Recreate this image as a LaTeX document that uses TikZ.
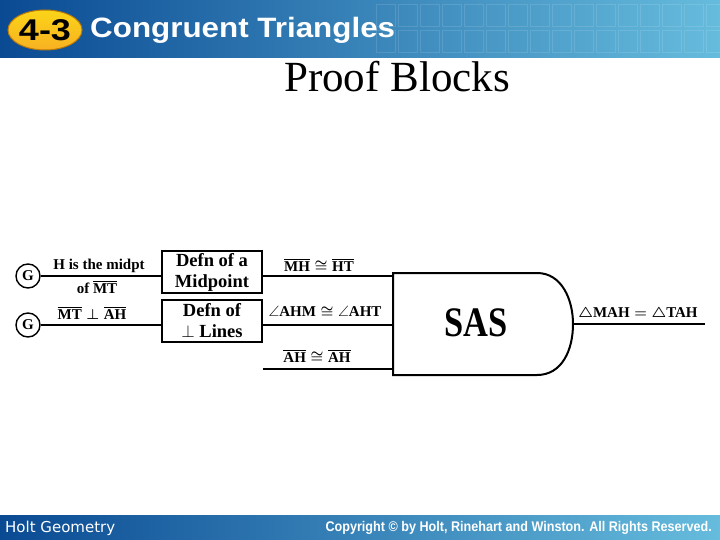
\documentclass[tikz,border=0pt]{standalone}
\usepackage{amsmath,amssymb}
\usepackage{fontspec}
\setmainfont{Liberation Serif}
\newfontfamily\hdrfont{Liberation Sans}
\newfontfamily\ftrfont{DejaVu Sans}
\usepackage{xcolor}
\usepackage{tikz}
\usetikzlibrary{calc}
\definecolor{hdrdark}{HTML}{0A4A93}
\definecolor{hdrmid}{HTML}{1463AC}
\definecolor{hdrlight}{HTML}{66BCDD}
\definecolor{badge}{HTML}{F7B928}
\definecolor{badgedark}{HTML}{B97A0A}
\newcommand{\fsz}[1]{\fontsize{#1}{#1}\selectfont}
\newcommand{\seg}[1]{\overline{\text{#1}}}
\tikzset{given/.style={draw,line width=1.4pt,circle,minimum size=24pt,inner sep=0pt,font=\bfseries\fsz{15}},
  defbox/.style={draw,line width=2pt,minimum width=100pt,minimum height=42pt,inner sep=1pt,align=center,font=\bfseries\fontsize{18.5}{21}\selectfont},
  wire/.style={line width=1.2pt},
  lbl/.style={inner sep=0pt,font=\bfseries\boldmath\fsz{15}},
  gate/.style={line width=2pt}}

\begin{document}
\begin{tikzpicture}[x=1pt,y=-1pt]
\useasboundingbox (0,0) rectangle (720,540);
% header and footer bars
\shade[left color=hdrdark,middle color=hdrmid,right color=hdrlight] (0,0) rectangle (720,58);
\foreach \i in {0,...,15}{
  \draw[white,opacity=0.12] (376+22*\i,4) rectangle ++(19,22);
  \draw[white,opacity=0.12] (376+22*\i,30) rectangle ++(19,22);}
\shade[left color=hdrdark,middle color=hdrmid,right color=hdrlight] (0,515) rectangle (720,540);
\shade[top color=badge!60!yellow,bottom color=badge!85!orange,draw=badgedark,line width=1pt] (45,30) ellipse [x radius=37,y radius=20];
\node (badge) at (45,30) {\hdrfont\bfseries\fsz{30}\scalebox{1.2}[1]{4-3}};
\node[anchor=west,white,inner sep=0pt] (hdr) at (90,30) {\hdrfont\bfseries\fsz{28}\scalebox{1.12}[1]{Congruent Triangles}};
\node (title) at (397,77) {\fsz{43}Proof Blocks};
\node[anchor=west,white,inner sep=0pt] (ftl) at (5,528) {\ftrfont\fsz{15}Holt Geometry};
\node[anchor=east,white,inner sep=0pt] (ftr) at (712,528) {\hdrfont\bfseries\fsz{14}\scalebox{0.9}[1]{Copyright \textcopyright{} by Holt, Rinehart and Winston. All Rights Reserved.}};
% proof blocks
\node[given] (g1) at (28,276) {G};
\node[given] (g2) at (28,325) {G};
\node[defbox] (b1) at (212,272) {Defn of a\\Midpoint};
\node[defbox] (b2) at (212,320.5) {Defn of\\$\perp$ Lines};
\draw[gate] (393,273) -- (537,273) .. controls (562,273) and (573,300) .. (573,324)
  .. controls (573,350) and (562,375) .. (537,375) -- (393,375) -- cycle;
\node (sas) at (476,323) {\bfseries\fsz{42}\scalebox{0.82}[1]{SAS}};
\coordinate (sasin) at (393,324); \coordinate (sasout) at (573,324);
\coordinate (c3) at (263,369); \coordinate (out) at (705,324);
\draw[wire] (g1) -- (g1 -| b1.west);
\draw[wire] (b1.east |- g1) -- (g1 -| sasin);
\draw[wire] (g2) -- (g2 -| b2.west);
\draw[wire] (b2.east |- g2) -- (g2 -| sasin);
\draw[wire] (c3) -- (c3 -| sasin);
\draw[wire] (sasout) -- (out);
\node[lbl] (l1) at (99,266) {H is the midpt};
\node[lbl] (l2) at (97,287) {of $\seg{MT}$};
\node[lbl] (l3) at (92,313) {$\seg{MT}\perp\seg{AH}$};
\node[lbl] (l4) at (319,265) {$\seg{MH}\cong\seg{HT}$};
\node[lbl] (l5) at (325,312) {$\angle\text{AHM}\cong\angle\text{AHT}$};
\node[lbl] (l6) at (317,356) {$\seg{AH}\cong\seg{AH}$};
\node[lbl] (l7) at (638,314) {$\triangle\text{MAH}=\triangle\text{TAH}$};
\end{tikzpicture}
\end{document}
